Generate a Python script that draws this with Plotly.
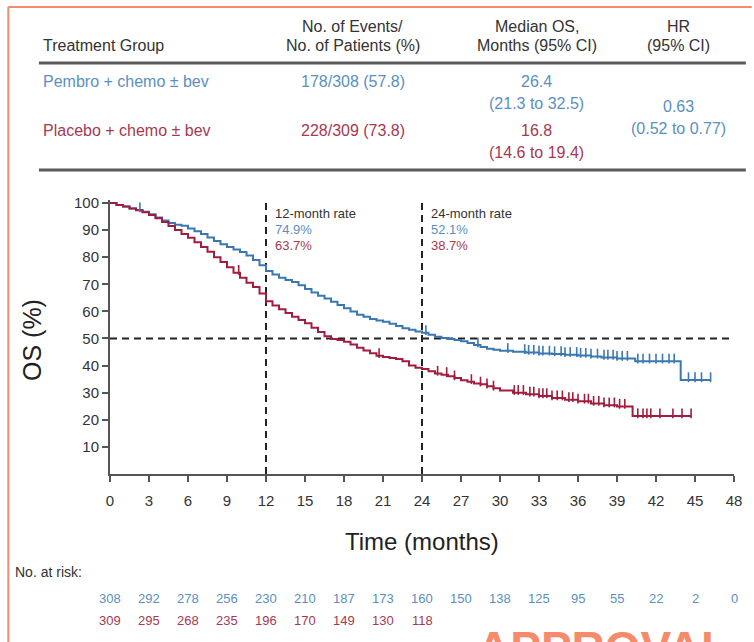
import plotly.graph_objects as go

# ---- Kaplan-Meier overall survival estimates (months, %) ----
pembro_t = [0, 0.5, 1.0, 1.5, 2.0, 2.5, 3.0, 3.5, 4.0, 4.5, 5.0, 5.5, 6.0, 6.5, 7.0, 7.5,
            8.0, 8.5, 9.0, 9.5, 10.0, 10.5, 11.0, 11.5, 12.0, 12.5, 13.0, 13.5, 14.0, 14.5,
            15.0, 15.5, 16.0, 16.5, 17.0, 17.5, 18.0, 18.5, 19.0, 19.5, 20.0, 20.5, 21.0,
            21.5, 22.0, 22.5, 23.0, 23.5, 24.0, 24.5, 25.0, 25.5, 26.0, 26.5, 27.0, 27.5,
            28.0, 28.5, 29.0, 29.5, 30.0, 31.0, 32.0, 33.0, 34.0, 35.0, 36.0, 37.0, 37.8,
            39.0, 40.4, 43.9, 46.2]
pembro_s = [100, 99.3, 98.7, 98.0, 97.4, 96.8, 95.8, 94.6, 93.5, 92.6, 92.0, 91.6, 90.6,
            89.6, 88.6, 87.3, 86.0, 84.8, 83.8, 82.8, 81.9, 80.6, 79.0, 77.0, 74.9, 73.6,
            72.4, 71.6, 70.8, 69.6, 68.3, 67.0, 65.8, 64.8, 63.6, 62.4, 61.2, 60.0, 58.8,
            58.0, 57.2, 56.6, 56.2, 55.4, 54.6, 53.8, 53.2, 52.6, 52.1, 51.4, 50.6, 50.2,
            49.8, 49.4, 49.0, 48.3, 47.6, 46.9, 46.2, 45.8, 45.5, 45.1, 44.8, 44.5, 44.3,
            44.0, 43.7, 43.4, 43.0, 42.6, 41.6, 34.7, 34.7]

placebo_t = [0, 0.5, 1.0, 1.5, 2.0, 2.5, 3.0, 3.5, 4.0, 4.5, 5.0, 5.5, 6.0, 6.5, 7.0, 7.5,
             8.0, 8.5, 9.0, 9.5, 10.0, 10.5, 11.0, 11.5, 12.0, 12.5, 13.0, 13.5, 14.0, 14.5,
             15.0, 15.5, 16.0, 16.5, 17.0, 17.5, 18.0, 18.5, 19.0, 19.5, 20.0, 20.5, 21.0,
             21.5, 22.0, 22.5, 23.0, 23.5, 24.0, 24.5, 25.0, 25.5, 26.0, 26.5, 27.0, 27.5,
             28.0, 28.5, 29.0, 29.5, 30.0, 31.0, 32.0, 33.0, 34.0, 35.0, 36.0, 37.0, 38.0,
             39.0, 40.2, 44.7]
placebo_s = [100, 99.3, 98.7, 98.0, 97.3, 96.6, 95.6, 94.4, 93.0, 91.5, 90.0, 88.6, 87.2,
             85.5, 83.8, 82.0, 80.0, 78.2, 76.3, 74.3, 72.4, 70.6, 69.0, 66.6, 63.7, 62.2,
             60.8, 59.4, 58.0, 56.8, 55.6, 54.0, 52.4, 50.8, 49.8, 49.4, 48.8, 47.8, 46.6,
             45.6, 44.6, 43.6, 43.2, 42.8, 42.4, 41.6, 40.0, 39.2, 38.7, 37.9, 37.1, 36.6,
             36.1, 35.4, 34.6, 34.0, 33.4, 33.1, 32.4, 31.6, 30.8, 30.0, 29.4, 28.8, 28.0,
             27.4, 26.8, 26.0, 25.4, 24.9, 21.4, 21.4]

# censoring times
pembro_cens = [2.3, 24.3, 28.3, 30.6, 31.9, 32.2, 32.6, 33.0, 33.3, 33.8, 34.2, 34.7, 35.0,
               35.4, 35.9, 36.2, 36.6, 37.0, 37.5, 38.0, 38.3, 38.7, 39.0, 39.4, 39.8, 40.6,
               41.0, 41.5, 42.0, 42.5, 43.0, 43.4, 44.5, 45.0, 45.5, 46.2]
placebo_cens = [9.9, 12.0, 20.7, 25.2, 25.9, 26.5, 27.8, 28.5, 29.0, 29.5, 31.1, 31.4, 31.8,
                32.3, 32.6, 33.0, 33.3, 33.6, 34.0, 34.4, 34.8, 35.3, 35.6, 36.0, 36.5, 36.8,
                37.2, 37.6, 38.0, 38.4, 38.8, 39.2, 39.6, 40.6, 41.0, 41.3, 41.6, 42.3, 43.3,
                44.0, 44.7]

# numbers at risk
risk_times = [0, 3, 6, 9, 12, 15, 18, 21, 24, 27, 30, 33, 36, 39, 42, 45, 48]
pembro_risk = [308, 292, 278, 256, 230, 210, 187, 173, 160, 150, 138, 125, 95, 55, 22, 2, 0]
placebo_risk = [309, 295, 268, 235, 196, 170, 149, 130, 118]

x_ticks = list(range(0, 49, 3))
y_ticks = list(range(10, 101, 10))

# landmark rates
landmarks = [12, 24]
pembro_rates = ["74.9%", "52.1%"]
placebo_rates = ["63.7%", "38.7%"]

# summary table
table_header_1 = ["", "No. of Events/", "Median OS,", "HR"]
table_header_2 = ["Treatment Group", "No. of Patients (%)", "Months (95% CI)", "(95% CI)"]
pembro_row = ["Pembro + chemo ± bev", "178/308 (57.8)", "26.4", "(21.3 to 32.5)"]
placebo_row = ["Placebo + chemo ± bev", "228/309 (73.8)", "16.8", "(14.6 to 19.4)"]
hr_text = ["0.63", "(0.52 to 0.77)"]

BLUE = "#3b78b2"
RED = "#a21d3d"
BLUE_TXT = "#5a8fc2"
RED_TXT = "#a8384f"
INK = "#333333"
ORANGE = "#f68b6c"
FONT = "Liberation Sans, Arial, sans-serif"

W, H = 754, 642
L, R, T, B = 110, 742, 200, 474


def px(xp):
    return (xp - L) / (R - L)


def py(yp):
    return (B - yp) / (B - T)


def step_value(ts, ss, t):
    v = ss[0]
    for ti, si in zip(ts, ss):
        if ti <= t:
            v = si
        else:
            break
    return v


fig = go.Figure()

fig.add_trace(go.Scatter(x=pembro_t, y=pembro_s, mode="lines", line_shape="hv",
                         line=dict(color=BLUE, width=2), hoverinfo="skip", showlegend=False))
fig.add_trace(go.Scatter(x=placebo_t, y=placebo_s, mode="lines", line_shape="hv",
                         line=dict(color=RED, width=2), hoverinfo="skip", showlegend=False))
fig.add_trace(go.Scatter(x=pembro_cens, y=[step_value(pembro_t, pembro_s, t) + 1.0 for t in pembro_cens],
                         mode="markers", marker=dict(symbol="line-ns", size=7,
                                                     line=dict(color=BLUE, width=1.6)),
                         hoverinfo="skip", showlegend=False))
fig.add_trace(go.Scatter(x=placebo_cens, y=[step_value(placebo_t, placebo_s, t) + 1.0 for t in placebo_cens],
                         mode="markers", marker=dict(symbol="line-ns", size=7,
                                                     line=dict(color=RED, width=1.6)),
                         hoverinfo="skip", showlegend=False))

# reference lines: median and landmark times
dash = dict(color="#222222", width=2, dash="7px,5px")
fig.add_shape(type="line", xref="x", yref="y", x0=0, x1=48.3, y0=50, y1=50, line=dash, layer="below")
for lm in landmarks:
    fig.add_shape(type="line", xref="x", yref="y", x0=lm, x1=lm, y0=0, y1=101, line=dash, layer="below")

ann = []
for lm, pr, pl in zip(landmarks, pembro_rates, placebo_rates):
    ann.append(dict(x=lm, y=py(213), xref="x", yref="paper", xshift=7, text=f"{lm}-month rate",
                    showarrow=False, xanchor="left", yanchor="middle",
                    font=dict(family=FONT, size=13, color=INK)))
    ann.append(dict(x=lm, y=py(229), xref="x", yref="paper", xshift=7, text=pr,
                    showarrow=False, xanchor="left", yanchor="middle",
                    font=dict(family=FONT, size=13, color=BLUE_TXT)))
    ann.append(dict(x=lm, y=py(245), xref="x", yref="paper", xshift=7, text=pl,
                    showarrow=False, xanchor="left", yanchor="middle",
                    font=dict(family=FONT, size=13, color=RED_TXT)))

# axis titles
ann.append(dict(x=px(31), y=py(340), xref="paper", yref="paper", text="OS (%)", textangle=-90,
                showarrow=False, xanchor="center", yanchor="middle",
                font=dict(family=FONT, size=25, color="#222222")))
ann.append(dict(x=px(426), y=py(541), xref="paper", yref="paper", text="Time (months)",
                showarrow=False, xanchor="center", yanchor="middle",
                font=dict(family=FONT, size=24, color="#222222")))

# numbers at risk
ann.append(dict(x=px(12), y=py(572), xref="paper", yref="paper", text="No. at risk:",
                showarrow=False, xanchor="left", yanchor="middle",
                font=dict(family=FONT, size=14, color=INK)))
for t, n in zip(risk_times, pembro_risk):
    ann.append(dict(x=t, y=py(598), xref="x", yref="paper", text=str(n), showarrow=False,
                    xanchor="center", yanchor="middle",
                    font=dict(family=FONT, size=13, color=BLUE_TXT)))
for t, n in zip(risk_times, placebo_risk):
    ann.append(dict(x=t, y=py(620), xref="x", yref="paper", text=str(n), showarrow=False,
                    xanchor="center", yanchor="middle",
                    font=dict(family=FONT, size=13, color=RED_TXT)))

# summary table
col_x = [40, 356, 542, 686]
tfont = dict(family=FONT, size=16, color=INK)
for i in range(1, 4):
    ann.append(dict(x=px(col_x[i]), y=py(27), xref="paper", yref="paper", text=table_header_1[i],
                    showarrow=False, xanchor="center", yanchor="middle", font=tfont))
for i in range(4):
    ann.append(dict(x=px(col_x[i]), y=py(46), xref="paper", yref="paper", text=table_header_2[i],
                    showarrow=False, xanchor="left" if i == 0 else "center", yanchor="middle",
                    font=tfont))
for row, ys, col in [(pembro_row, (81, 103), BLUE_TXT), (placebo_row, (130, 152), RED_TXT)]:
    f = dict(family=FONT, size=16, color=col)
    ann.append(dict(x=px(col_x[0]), y=py(ys[0]), xref="paper", yref="paper", text=row[0],
                    showarrow=False, xanchor="left", yanchor="middle", font=f))
    ann.append(dict(x=px(col_x[1]), y=py(ys[0]), xref="paper", yref="paper", text=row[1],
                    showarrow=False, xanchor="center", yanchor="middle", font=f))
    ann.append(dict(x=px(col_x[2]), y=py(ys[0]), xref="paper", yref="paper", text=row[2],
                    showarrow=False, xanchor="center", yanchor="middle", font=f))
    ann.append(dict(x=px(col_x[2]), y=py(ys[1]), xref="paper", yref="paper", text=row[3],
                    showarrow=False, xanchor="center", yanchor="middle", font=f))
ann.append(dict(x=px(col_x[3]), y=py(106), xref="paper", yref="paper", text=hr_text[0],
                showarrow=False, xanchor="center", yanchor="middle",
                font=dict(family=FONT, size=16, color=BLUE_TXT)))
ann.append(dict(x=px(col_x[3]), y=py(128), xref="paper", yref="paper", text=hr_text[1],
                showarrow=False, xanchor="center", yanchor="middle",
                font=dict(family=FONT, size=16, color=BLUE_TXT)))

# watermark text running off the lower edge
ann.append(dict(x=px(480), y=py(620), xref="paper", yref="paper", text="<b>APPROVAL</b>",
                showarrow=False, xanchor="left", yanchor="top",
                font=dict(family=FONT, size=46, color=ORANGE)))

shapes = []
for yl in (63, 170):
    shapes.append(dict(type="line", xref="paper", yref="paper", x0=px(38), x1=px(754),
                       y0=py(yl), y1=py(yl), line=dict(color="#5a5a5a", width=3)))
# frame
shapes.append(dict(type="line", xref="paper", yref="paper", x0=px(7), x1=px(760),
                   y0=py(7), y1=py(7), line=dict(color=ORANGE, width=2)))
shapes.append(dict(type="line", xref="paper", yref="paper", x0=px(7), x1=px(7),
                   y0=py(7), y1=py(650), line=dict(color=ORANGE, width=2)))

for s in shapes:
    fig.add_shape(**s)

fig.update_layout(
    width=W, height=H,
    margin=dict(l=L, r=W - R, t=T, b=H - B, pad=0),
    paper_bgcolor="white", plot_bgcolor="white",
    annotations=ann,
    xaxis=dict(range=[0, 48], tickvals=x_ticks, ticktext=[str(v) for v in x_ticks],
               showgrid=False, zeroline=False, showline=True, linecolor="#555555", linewidth=2,
               ticks="outside", ticklen=6, tickwidth=2, tickcolor="#555555",
               ticklabelstandoff=6,
               tickfont=dict(family=FONT, size=15, color=INK)),
    yaxis=dict(range=[0, 101.1], tickvals=y_ticks, ticktext=[str(v) for v in y_ticks],
               showgrid=False, zeroline=False, showline=True, linecolor="#555555", linewidth=2,
               ticks="outside", ticklen=6, tickwidth=2, tickcolor="#555555",
               tickfont=dict(family=FONT, size=15, color=INK)),
)

fig.write_html("out.html")
